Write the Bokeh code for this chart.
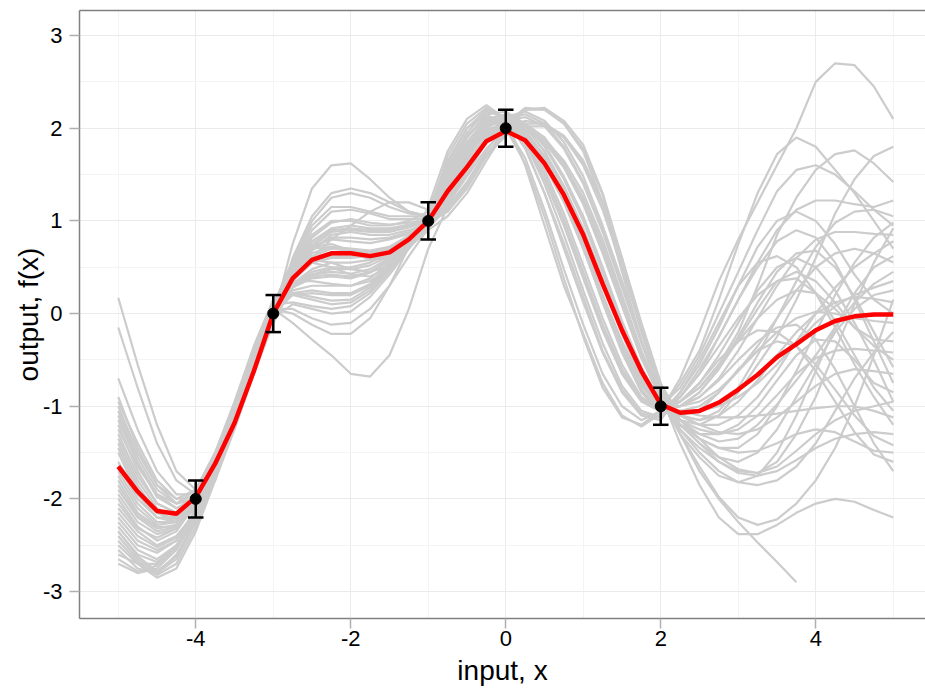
import math
from bokeh.plotting import figure
from bokeh.models import ColumnDataSource, FixedTicker, LinearAxis, Range1d
from bokeh.embed import file_html
from bokeh.resources import INLINE

nan = float("nan")

# input grid
x_grid = [-5.0, -4.75, -4.5, -4.25, -4.0, -3.75, -3.5, -3.25, -3.0, -2.75,
          -2.5, -2.25, -2.0, -1.75, -1.5, -1.25, -1.0, -0.75, -0.5, -0.25,
          0.0, 0.25, 0.5, 0.75, 1.0, 1.25, 1.5, 1.75, 2.0, 2.25,
          2.5, 2.75, 3.0, 3.25, 3.5, 3.75, 4.0, 4.25, 4.5, 4.75, 5.0]

# posterior mean (red)
mean_f = [-1.65, -1.92, -2.13, -2.16, -1.98, -1.62, -1.18, -0.62, 0.0, 0.38,
          0.58, 0.65, 0.65, 0.62, 0.66, 0.8, 1.0, 1.32, 1.58, 1.86,
          1.97, 1.87, 1.62, 1.28, 0.85, 0.32, -0.18, -0.62, -0.98, -1.07,
          -1.05, -0.96, -0.82, -0.66, -0.47, -0.33, -0.18, -0.08, -0.03, -0.01, -0.01]

# observations with error bars
obs_x = [-4, -3, -1, 0, 2]
obs_y = [-2, 0, 1, 2, -1]
obs_err = [0.2, 0.2, 0.2, 0.2, 0.2]

# posterior samples (grey)
s01 = [0.17,-0.55,-1.2,-1.7,-1.9,-1.65,-1.1,-0.5,0.05, 0.0,-0.12,-0.22,-0.22,-0.05,0.3,0.72,1.15, 1.75,2.1,2.25,2.1,1.6,0.95,0.3,-0.22,-0.75,-1.1,-1.22,-1.08, -0.85,-0.55,-0.15,0.3,0.72,1.0,1.1,1.0,0.75,0.42,0.15,0.0]
s02 = [-0.15,-0.8,-1.4,-1.8,-1.95,-1.7,-1.2,-0.6,-0.05, 0.5,0.85,1.0,1.0,0.95,0.95,1.0,1.1, 1.65,2.0,2.2,2.12,1.8,1.3,0.7,0.12,-0.42,-0.85,-1.1,-1.15, -0.85,-0.5,-0.1,0.3,0.55,0.62,0.5,0.22,-0.15,-0.55,-0.9,-1.2]
s03 = [-0.7,-1.25,-1.7,-1.95,-1.95,-1.6,-1.05,-0.45,0.1, 0.45,0.65,0.72,0.7,0.68,0.72,0.82,0.95, 1.48,1.85,2.08,2.05,1.85,1.5,1.02,0.45,-0.12,-0.6,-0.92,-1.05, -0.7,-0.2,0.35,0.8,1.2,1.6,2.0,2.5,2.7,2.68,2.45,2.1]
s04 = [-0.9,-1.45,-1.85,-2.05,-2.0,-1.65,-1.15,-0.55,0.0, 0.3,0.4,0.42,0.4,0.45,0.58,0.78,0.98, 1.4,1.78,2.05,2.1,1.98,1.7,1.28,0.75,0.15,-0.4,-0.82,-1.05, -0.75,-0.4,0.15,0.75,1.3,1.72,1.9,1.8,1.55,1.3,1.0,0.7]
s05 = [-1.0,-1.5,-1.85,-2.0,-1.9,-1.5,-0.95,-0.35,0.15, 0.2,0.22,0.2,0.2,0.3,0.5,0.75,0.98, 1.3,1.68,1.98,2.05,1.9,1.6,1.2,0.7,0.15,-0.35,-0.75,-1.0, -0.8,-0.45,0.0,0.45,0.9,1.32,1.55,1.6,1.5,1.32,1.12,0.95]
s06 = [-1.1,-1.6,-1.95,-2.1,-2.05,-1.7,-1.2,-0.6,-0.05, 0.75,1.35,1.6,1.62,1.45,1.25,1.1,1.05, 1.35,1.7,1.95,2.02,1.92,1.68,1.32,0.88,0.35,-0.2,-0.68,-1.0, -0.95,-0.8,-0.55,-0.2,0.3,0.85,1.25,1.55,1.72,1.76,1.62,1.42]
s07 = [-1.2,-1.7,-2.05,-2.15,-2.0,-1.55,-1.0,-0.4,0.1, 0.4,0.7,0.82,0.82,0.8,0.82,0.88,0.98, 1.1,1.35,1.7,2.0,2.2,2.2,2.05,1.75,1.2,0.45,-0.3,-0.88, -1.4,-1.85,-2.2,-2.38,-2.38,-2.28,-2.15,-2.05,-2.0,-2.03,-2.12,-2.2]
s08 = [-1.3,-1.75,-2.05,-2.15,-2.05,-1.7,-1.2,-0.6,-0.1, 0.3,0.45,0.5,0.5,0.55,0.65,0.8,0.98, 1.12,1.4,1.72,1.95,2.05,2.05,1.92,1.65,1.2,0.6,-0.1,-0.75, -1.3,-1.65,-1.98,-2.2,-2.28,-2.22,-2.05,-1.8,-1.45,-1.0,-0.45,0.15]
s09 = [-1.4,-1.85,-2.15,-2.25,-2.1,-1.7,-1.15,-0.55,0.0, 0.2,0.15,0.1,0.12,0.25,0.45,0.72,0.95, 1.2,1.5,1.85,2.1,2.15,2.05,1.8,1.42,0.9,0.3,-0.3,-0.85, -1.25,-1.45,-1.6,-1.7,-1.72,-1.6,-1.3,-0.9,-0.4,0.1,0.55,0.92]
s10 = [-1.5,-1.95,-2.2,-2.25,-2.05,-1.6,-1.05,-0.45,0.1, 0.55,0.95,1.15,1.15,1.1,1.05,1.05,1.05, 1.3,1.62,1.88,2.0,1.98,1.85,1.6,1.25,0.75,0.15,-0.45,-0.92, -1.3,-1.55,-1.75,-1.82,-1.75,-1.5,-1.1,-0.62,-0.15,0.22,0.5,0.62]
s11 = [-1.6,-1.95,-2.15,-2.15,-1.95,-1.55,-1.05,-0.5,0.05, -0.1,-0.28,-0.45,-0.65,-0.68,-0.45,0.05,0.7, 1.15,1.55,1.92,2.05,2.02,1.88,1.6,1.2,0.68,0.1,-0.45,-0.9, -1.3,-1.7,-2.0,-2.25,-2.47,-2.68,-2.9,nan,nan,nan,nan,nan]
s12 = [-1.7,-2.05,-2.25,-2.25,-2.05,-1.65,-1.15,-0.6,-0.05, 0.35,0.55,0.6,0.6,0.62,0.7,0.82,0.98, 1.5,1.9,2.15,2.18,2.05,1.8,1.45,1.0,0.45,-0.12,-0.6,-0.95, -1.2,-1.35,-1.45,-1.45,-1.3,-1.0,-0.62,-0.2,0.2,0.55,0.82,0.98]
s13 = [-1.8,-2.15,-2.3,-2.3,-2.1,-1.7,-1.2,-0.6,-0.1, 0.6,1.05,1.3,1.35,1.3,1.2,1.1,1.05, 1.38,1.72,1.98,2.05,1.95,1.7,1.35,0.9,0.38,-0.18,-0.65,-0.98, -1.1,-1.15,-1.05,-0.8,-0.45,-0.05,0.35,0.72,0.98,1.1,1.12,1.05]
s14 = [-1.9,-2.2,-2.35,-2.3,-2.05,-1.6,-1.05,-0.45,0.1, 0.25,0.3,0.3,0.3,0.38,0.55,0.78,1.0, 1.62,2.0,2.15,2.02,1.68,1.12,0.48,-0.12,-0.65,-1.0,-1.15,-1.05, -0.9,-0.6,-0.25,0.15,0.5,0.78,0.9,0.82,0.55,0.15,-0.3,-0.75]
s15 = [-2.0,-2.3,-2.45,-2.35,-2.05,-1.6,-1.05,-0.5,0.05, 0.45,0.75,0.9,0.92,0.9,0.9,0.95,1.0, 1.58,1.95,2.18,2.12,1.85,1.4,0.85,0.25,-0.32,-0.78,-1.05,-1.12, -0.9,-0.65,-0.35,-0.05,0.2,0.35,0.38,0.22,-0.08,-0.45,-0.8,-1.05]
s16 = [-2.1,-2.35,-2.5,-2.4,-2.15,-1.75,-1.2,-0.6,-0.05, 0.1,0.05,0.0,0.02,0.18,0.42,0.7,0.95, 1.42,1.8,2.04,2.08,1.9,1.55,1.08,0.52,-0.05,-0.55,-0.9,-1.05, -0.9,-0.65,-0.25,0.15,0.55,0.9,1.12,1.22,1.22,1.18,1.15,1.22]
s17 = [-2.2,-2.45,-2.55,-2.45,-2.15,-1.7,-1.1,-0.5,0.1, 0.4,0.55,0.5,0.42,0.4,0.5,0.72,0.95, 1.35,1.72,2.0,2.12,2.02,1.75,1.32,0.8,0.2,-0.35,-0.78,-1.02, -1.0,-0.85,-0.58,-0.25,0.12,0.45,0.65,0.68,0.5,0.18,-0.2,-0.58]
s18 = [-2.3,-2.55,-2.65,-2.5,-2.2,-1.75,-1.2,-0.6,0.0, 0.35,0.6,0.8,0.95,1.1,1.2,1.2,1.12, 1.42,1.72,1.95,2.02,1.92,1.65,1.25,0.75,0.2,-0.3,-0.72,-0.98, -0.95,-0.75,-0.45,-0.1,0.25,0.5,0.6,0.5,0.25,-0.1,-0.5,-0.95]
s19 = [-2.4,-2.65,-2.8,-2.65,-2.25,-1.7,-1.1,-0.5,0.05, 0.05,-0.05,-0.12,-0.1,0.05,0.3,0.62,0.92, 1.15,1.42,1.75,2.05,2.22,2.2,2.05,1.78,1.28,0.55,-0.2,-0.82, -1.25,-1.5,-1.7,-1.82,-1.85,-1.8,-1.65,-1.4,-1.05,-0.7,-0.42,-0.2]
s20 = [-2.5,-2.7,-2.85,-2.75,-2.35,-1.8,-1.2,-0.6,-0.05, 0.5,0.72,0.75,0.68,0.6,0.62,0.75,0.92, 1.18,1.48,1.78,1.98,2.08,2.05,1.9,1.6,1.12,0.5,-0.18,-0.8, -1.15,-1.2,-1.1,-0.85,-0.55,-0.25,0.15,0.6,1.08,1.45,1.7,1.8]
s21 = [-2.6,-2.7,-2.7,-2.5,-2.15,-1.7,-1.15,-0.55,0.05, 0.48,0.82,0.98,1.02,0.98,0.96,0.98,1.02, 1.28,1.62,1.92,2.12,2.18,2.08,1.85,1.48,0.95,0.35,-0.28,-0.85, -1.2,-1.4,-1.55,-1.6,-1.5,-1.25,-0.9,-0.55,-0.2,0.05,0.2,0.25]
s22 = [-2.7,-2.8,-2.75,-2.55,-2.2,-1.75,-1.2,-0.6,0.0, 0.32,0.48,0.55,0.55,0.58,0.68,0.82,0.97, 1.28,1.6,1.85,1.98,1.98,1.88,1.65,1.3,0.8,0.2,-0.4,-0.9, -1.2,-1.4,-1.6,-1.72,-1.75,-1.7,-1.58,-1.45,-1.35,-1.3,-1.28,-1.3]
s23 = [-2.55,-2.75,-2.8,-2.6,-2.25,-1.8,-1.25,-0.65,-0.1, 0.38,0.68,0.85,0.88,0.85,0.85,0.9,0.98, 1.32,1.68,1.95,2.08,2.05,1.9,1.62,1.22,0.7,0.12,-0.42,-0.88, -1.2,-1.35,-1.45,-1.5,-1.48,-1.4,-1.3,-1.25,-1.28,-1.38,-1.48,-1.5]
s24 = [-1.25,-1.65,-1.95,-2.05,-1.9,-1.5,-1.0,-0.4,0.15, 0.35,0.35,0.32,0.3,0.35,0.5,0.75,0.98, 1.45,1.85,2.1,2.15,2.02,1.75,1.38,0.92,0.38,-0.18,-0.65,-0.98, -1.0,-0.9,-0.7,-0.4,-0.05,0.3,0.6,0.8,0.88,0.88,0.86,0.85]
s25 = [-0.95,-1.4,-1.8,-2.0,-1.98,-1.62,-1.1,-0.5,0.05, 0.42,0.72,0.88,0.9,0.88,0.88,0.93,1.0, 1.25,1.58,1.85,1.98,1.9,1.65,1.28,0.85,0.32,-0.22,-0.7,-1.02, -1.05,-1.0,-0.85,-0.62,-0.35,-0.05,0.25,0.5,0.65,0.7,0.65,0.55]
s26 = [-1.15,-1.62,-1.98,-2.1,-1.98,-1.58,-1.05,-0.45,0.08, 0.22,0.25,0.22,0.22,0.32,0.52,0.78,1.0, 1.35,1.72,1.98,2.05,1.92,1.62,1.22,0.72,0.18,-0.32,-0.75,-1.0, -1.1,-1.2,-1.2,-1.1,-0.9,-0.62,-0.3,0.0,0.28,0.5,0.65,0.78]
s27 = [-1.45,-1.9,-2.15,-2.22,-2.05,-1.62,-1.08,-0.48,0.08, 0.58,1.0,1.25,1.3,1.25,1.15,1.08,1.05, 1.42,1.8,2.08,2.12,1.98,1.68,1.25,0.72,0.12,-0.42,-0.85,-1.08, -1.05,-1.05,-1.0,-0.9,-0.75,-0.55,-0.32,-0.1,0.08,0.2,0.28,0.35]
s28 = [-1.75,-2.1,-2.28,-2.25,-2.02,-1.6,-1.1,-0.55,0.0, 0.42,0.62,0.7,0.68,0.66,0.7,0.8,0.95, 1.52,1.9,2.12,2.08,1.85,1.45,0.95,0.38,-0.18,-0.65,-0.95,-1.06, -1.1,-1.15,-1.1,-0.95,-0.72,-0.45,-0.2,0.0,0.12,0.18,0.16,0.12]
s29 = [-1.95,-2.25,-2.38,-2.32,-2.08,-1.65,-1.1,-0.5,0.05, 0.32,0.42,0.45,0.43,0.48,0.6,0.8,1.0, 1.55,1.92,2.12,2.0,1.62,1.05,0.38,-0.25,-0.8,-1.12,-1.2,-1.05, -1.0,-0.95,-0.82,-0.62,-0.4,-0.2,-0.05,0.02,0.0,-0.05,-0.08,-0.1]
s30 = [-2.15,-2.4,-2.52,-2.42,-2.12,-1.7,-1.15,-0.55,0.0, 0.52,0.9,1.1,1.12,1.08,1.02,1.02,1.03, 1.7,2.05,2.22,2.1,1.78,1.3,0.76,0.18,-0.4,-0.82,-1.08,-1.12, -0.95,-0.8,-0.55,-0.3,-0.05,0.15,0.25,0.22,0.05,-0.15,-0.28,-0.3]
s31 = [-2.35,-2.6,-2.68,-2.52,-2.18,-1.72,-1.15,-0.55,0.05, 0.22,0.18,0.14,0.15,0.28,0.48,0.74,0.96, 1.4,1.8,2.08,2.15,2.05,1.82,1.48,1.05,0.5,-0.08,-0.58,-0.95, -1.15,-1.25,-1.3,-1.25,-1.1,-0.88,-0.65,-0.48,-0.4,-0.38,-0.4,-0.42]
s32 = [-2.45,-2.68,-2.82,-2.7,-2.3,-1.75,-1.15,-0.55,0.0, 0.38,0.58,0.62,0.62,0.64,0.72,0.84,0.98, 1.28,1.62,1.9,2.02,2.0,1.85,1.58,1.18,0.65,0.08,-0.48,-0.92, -1.1,-1.2,-1.28,-1.3,-1.25,-1.12,-0.95,-0.78,-0.65,-0.6,-0.62,-0.65]
s33 = [-1.05,-1.55,-1.9,-2.05,-1.95,-1.55,-1.0,-0.4,0.1, 0.12,0.08,0.05,0.08,0.22,0.45,0.72,0.96, 1.32,1.65,1.9,2.02,2.0,1.85,1.58,1.2,0.7,0.1,-0.48,-0.92, -1.2,-1.3,-1.3,-1.2,-1.0,-0.72,-0.45,-0.28,-0.3,-0.5,-0.75,-0.85]
s34 = [-1.35,-1.8,-2.1,-2.2,-2.05,-1.65,-1.12,-0.52,0.02, 0.42,0.58,0.55,0.48,0.45,0.52,0.72,0.96, 1.22,1.55,1.88,2.08,2.12,2.02,1.78,1.4,0.88,0.28,-0.32,-0.86, -1.15,-1.35,-1.55,-1.68,-1.72,-1.65,-1.48,-1.3,-1.15,-1.05,-1.0,-0.95]
s35 = [-1.65,-2.0,-2.2,-2.2,-2.0,-1.6,-1.1,-0.55,0.0, 0.48,0.7,0.72,0.66,0.58,0.6,0.72,0.9, 1.05,1.3,1.65,1.98,2.2,2.22,2.08,1.82,1.3,0.6,-0.15,-0.8, -1.15,-1.3,-1.38,-1.35,-1.2,-0.98,-0.72,-0.45,-0.15,0.12,0.32,0.45]
s36 = [-1.85,-2.18,-2.32,-2.28,-2.08,-1.68,-1.15,-0.55,-0.05, 0.42,0.72,0.8,0.78,0.76,0.8,0.86,0.97, 1.36,1.7,1.96,2.04,1.94,1.7,1.34,0.9,0.36,-0.2,-0.68,-1.0, -1.05,-1.1,-1.12,-1.12,-1.1,-1.08,-1.05,-1.02,-1.0,-1.0,-1.05,-1.12]
s37 = [-2.05,-2.32,-2.42,-2.32,-2.02,-1.58,-1.05,-0.48,0.08, 0.4,0.6,0.66,0.64,0.65,0.72,0.84,0.99, 1.1,1.38,1.7,1.92,2.02,2.02,1.9,1.62,1.18,0.58,-0.12,-0.76, -1.1,-1.05,-0.85,-0.6,-0.4,-0.3,-0.35,-0.55,-0.82,-1.1,-1.32,-1.42]
s38 = [-2.25,-2.5,-2.58,-2.45,-2.12,-1.65,-1.08,-0.48,0.08, 0.28,0.38,0.4,0.38,0.44,0.57,0.78,0.99, 1.44,1.82,2.06,2.06,1.86,1.5,1.0,0.42,-0.14,-0.62,-0.93,-1.05, -1.0,-0.85,-0.6,-0.28,0.05,0.35,0.45,0.35,0.12,-0.15,-0.35,-0.5]
s39 = [-2.35,-2.62,-2.78,-2.62,-2.22,-1.68,-1.08,-0.48,0.08, 0.48,0.78,0.92,0.95,0.92,0.92,0.96,1.01, 1.4,1.76,2.02,2.08,1.94,1.64,1.22,0.7,0.14,-0.36,-0.76,-1.0, -0.95,-0.75,-0.5,-0.3,-0.18,-0.2,-0.35,-0.62,-0.95,-1.28,-1.52,-1.6]
s40 = [-2.65,-2.78,-2.72,-2.52,-2.18,-1.72,-1.18,-0.58,0.0, 0.28,0.42,0.48,0.48,0.52,0.62,0.8,0.97, 1.38,1.76,2.04,2.1,1.96,1.68,1.26,0.74,0.14,-0.4,-0.83,-1.05, -1.0,-0.9,-0.72,-0.5,-0.3,-0.15,-0.12,-0.28,-0.6,-1.0,-1.4,-1.7]

samples = [s01, s02, s03, s04, s05, s06, s07, s08, s09, s10,
           s11, s12, s13, s14, s15, s16, s17, s18, s19, s20,
           s21, s22, s23, s24, s25, s26, s27, s28, s29, s30,
           s31, s32, s33, s34, s35, s36, s37, s38, s39, s40]

x_ticks = [-4, -2, 0, 2, 4]
x_minor = [-5, -3, -1, 1, 3, 5]
y_ticks = [-3, -2, -1, 0, 1, 2, 3]
y_minor = [-2.5, -1.5, -0.5, 0.5, 1.5, 2.5]

FONT = "Liberation Sans"
CAP = 0.1  # half width of error-bar caps (data units)

p = figure(width=925, height=691,
           x_range=Range1d(-5.5, 5.416), y_range=Range1d(-3.29, 3.27),
           output_backend="svg", toolbar_location=None,
           min_border_left=79, min_border_right=0, min_border_top=10,
           min_border_bottom=73, outline_line_color=None,
           background_fill_color="white", border_fill_color="white")

# grid
p.xgrid.ticker = FixedTicker(ticks=x_ticks, minor_ticks=x_minor)
p.ygrid.ticker = FixedTicker(ticks=y_ticks, minor_ticks=y_minor)
for g in (p.xgrid[0], p.ygrid[0]):
    g.grid_line_color = "#EBEBEB"
    g.grid_line_width = 1
    g.minor_grid_line_color = "#F4F4F4"
    g.minor_grid_line_width = 1

# axes
p.xaxis.ticker = FixedTicker(ticks=x_ticks)
p.yaxis.ticker = FixedTicker(ticks=y_ticks)
p.xaxis.major_label_overrides = {t: str(t) for t in x_ticks}
p.yaxis.major_label_overrides = {t: str(t) for t in y_ticks}
p.xaxis.axis_label = "input, x"
p.yaxis.axis_label = "output, f(x)"
for ax in (p.xaxis[0], p.yaxis[0]):
    ax.axis_line_color = "#808080"
    ax.axis_line_width = 1.5
    ax.major_tick_line_color = "#B0B0B0"
    ax.major_tick_line_width = 1.5
    ax.major_tick_out = 10
    ax.major_tick_in = 0
    ax.minor_tick_line_color = None
    ax.major_label_text_font = FONT
    ax.major_label_text_font_size = "22px"
    ax.major_label_text_color = "black"
    ax.axis_label_text_font = FONT
    ax.axis_label_text_font_size = "28px"
    ax.axis_label_text_font_style = "normal"
    ax.axis_label_text_color = "black"
p.xaxis[0].major_label_standoff = 2
p.xaxis[0].axis_label_standoff = 6
p.yaxis[0].major_label_standoff = 7
p.yaxis[0].axis_label_standoff = -4

top_axis = LinearAxis(ticker=FixedTicker(ticks=[]), axis_line_color="#808080",
                      axis_line_width=1.5, major_tick_out=0, major_tick_in=0,
                      minor_tick_line_color=None, major_label_text_font_size="0px")
p.add_layout(top_axis, "above")

# sample paths
xs_list, ys_list = [], []
for s in samples:
    xs_list.append([x for x, v in zip(x_grid, s) if not math.isnan(v)])
    ys_list.append([v for v in s if not math.isnan(v)])
p.multi_line(xs=xs_list, ys=ys_list, line_color="#CCCCCC", line_width=2.2)

# posterior mean
p.line(x_grid, mean_f, line_color="#FF0000", line_width=4.5)

# observations with error bars
src = ColumnDataSource(dict(
    x=obs_x, y=obs_y,
    lower=[y - e for y, e in zip(obs_y, obs_err)],
    upper=[y + e for y, e in zip(obs_y, obs_err)],
    left=[x - CAP for x in obs_x],
    right=[x + CAP for x in obs_x]))
p.segment(x0="x", y0="lower", x1="x", y1="upper", source=src,
          line_color="black", line_width=2.5)
p.segment(x0="left", y0="upper", x1="right", y1="upper", source=src,
          line_color="black", line_width=2.5)
p.segment(x0="left", y0="lower", x1="right", y1="lower", source=src,
          line_color="black", line_width=2.5)
p.scatter("x", "y", source=src, size=11, color="black")

open("out.html", "w").write(file_html(p, INLINE))
